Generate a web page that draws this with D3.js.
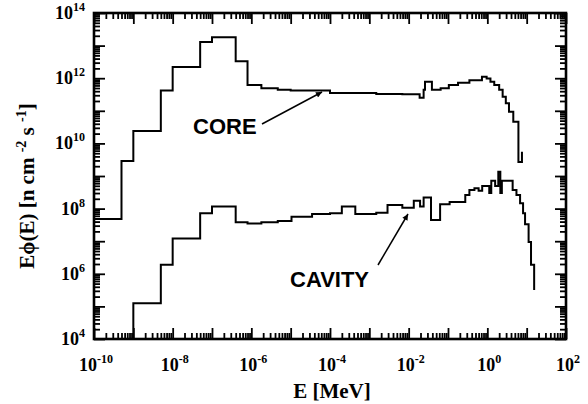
<!DOCTYPE html>
<html>
<head>
<meta charset="utf-8">
<script src="https://cdn.jsdelivr.net/npm/d3@7"></script>
<style>
  body { margin: 0; background: #fff; }
  svg { display: block; }
</style>
</head>
<body>
<div id="chart"></div>
<script>
'use strict';

// core spectrum: lower bin edges (MeV) + final point, flux per bin
const coreEnergy = [1e-10, 5e-10, 1e-9, 5e-9, 1e-8, 5e-8, 1e-7, 4e-7, 8e-7, 1.8e-6, 4.7e-6,
  1e-5, 1e-4, 1.5e-3, 6.9e-3, 1.9e-2, 2.4e-2, 2.6e-2, 3.9e-2, 6.5e-2, 0.105, 0.18, 0.35,
  0.73, 0.96, 1.2, 1.5, 2.0, 2.45, 2.95, 3.55, 4.57, 6.17, 7.59];
const coreFlux = [4.8e7, 2.9e9, 2.4e10, 4.2e11, 2.2e12, 1.3e13, 1.8e13, 3.3e12, 6.2e11, 4.9e11, 4.4e11,
  4.2e11, 3.5e11, 3.3e11, 3.2e11, 2.5e11, 4.4e11, 7.8e11, 4.4e11, 4.9e11, 6.2e11, 7.2e11, 8.7e11,
  1.1e12, 9.8e11, 7.8e11, 6.2e11, 4.4e11, 2.7e11, 1.7e11, 9.3e10, 4.6e10, 2.7e9, 5.5e9];

// cavity spectrum
const cavityEnergy = [1e-10, 1e-9, 5e-9, 1e-8, 5e-8, 1e-7, 4e-7, 8e-7, 1.8e-6, 4.7e-6, 1.05e-5,
  3.5e-5, 1e-4, 2e-4, 4.4e-4, 1.5e-3, 2.9e-3, 6.9e-3, 1.35e-2, 1.95e-2, 2.4e-2, 3.7e-2, 6.3e-2,
  0.11, 0.275, 0.35, 0.47, 0.6, 0.74, 1.12, 1.26, 1.58, 1.9, 2.14, 2.34, 4.4, 5.5, 6.8, 8.1,
  9.1, 11.2, 12.9, 15.5];
const cavityFlux = [1e4, 1.26e5, 1.9e6, 1.2e7, 7.2e7, 1.15e8, 3.8e7, 3.5e7, 3.8e7, 4.2e7, 5.6e7,
  6.8e7, 7.2e7, 1.15e8, 6.8e7, 7.4e7, 1.3e8, 1.07e8, 1.74e8, 1.15e8, 2.2e8, 4.5e7, 1.35e8,
  1.6e8, 2.6e8, 3.7e8, 4.2e8, 3.5e8, 4.9e8, 3.0e8, 7.1e8, 4.9e8, 1.35e9, 3.0e8, 7.2e8, 3.7e8,
  2.6e8, 1.45e8, 7.2e7, 3.3e7, 9.5e6, 1.9e6, 3.2e5];

const xDecades = [-10, -9, -8, -7, -6, -5, -4, -3, -2, -1, 0, 1, 2];
const yDecades = [4, 5, 6, 7, 8, 9, 10, 11, 12, 13, 14];
const xLabelExps = [-10, -8, -6, -4, -2, 0, 2];
const yLabelExps = [4, 6, 8, 10, 12, 14];

const width = 588, height = 404;
const margin = {top: 13, right: 22, bottom: 65, left: 94};

const svg = d3.select('#chart').append('svg')
  .attr('width', width)
  .attr('height', height);

const x = d3.scaleLog()
  .domain([1e-10, 1e2])
  .range([margin.left, width - margin.right]);
const y = d3.scaleLog()
  .domain([1e4, 1e14])
  .range([height - margin.bottom, margin.top]);

const x0 = x.range()[0], x1 = x.range()[1];
const y0 = y.range()[0], y1 = y.range()[1];

function majors(decs) {
  return decs.map((d) => Math.pow(10, d));
}
function minors(decs) {
  let out = [];
  decs.slice(0, -1).forEach((d) => {
    for (let m = 2; m <= 9; m++) out.push(m * Math.pow(10, d));
  });
  return out;
}

// inward ticks on all four sides
[{vals: majors(xDecades), size: 11}, {vals: minors(xDecades), size: 6}].forEach((t) => {
  svg.append('g')
    .attr('transform', `translate(0,${y0})`)
    .call(d3.axisBottom(x).tickValues(t.vals).tickSize(-t.size).tickFormat(''));
  svg.append('g')
    .attr('transform', `translate(0,${y1})`)
    .call(d3.axisTop(x).tickValues(t.vals).tickSize(-t.size).tickFormat(''));
});
[{vals: majors(yDecades), size: 11}, {vals: minors(yDecades), size: 6}].forEach((t) => {
  svg.append('g')
    .attr('transform', `translate(${x0},0)`)
    .call(d3.axisLeft(y).tickValues(t.vals).tickSize(-t.size).tickFormat(''));
  svg.append('g')
    .attr('transform', `translate(${x1},0)`)
    .call(d3.axisRight(y).tickValues(t.vals).tickSize(-t.size).tickFormat(''));
});
svg.selectAll('.domain').remove();
svg.selectAll('.tick line').attr('stroke', '#000').attr('stroke-width', 1.8);

// frame
svg.append('rect')
  .attr('x', x0).attr('y', y1)
  .attr('width', x1 - x0).attr('height', y0 - y1)
  .attr('fill', 'none').attr('stroke', '#000').attr('stroke-width', 2.6);

const serif = "'Liberation Serif', 'Times New Roman', serif";

function powerLabel(sel, exp) {
  sel.append('tspan').text('10');
  sel.append('tspan').attr('dy', -8).attr('font-size', 12).text(exp);
}

// x tick labels
xLabelExps.forEach((e) => {
  svg.append('text')
    .attr('x', x(Math.pow(10, e)) + 2)
    .attr('y', y0 + 32)
    .attr('text-anchor', 'middle')
    .attr('font-family', serif).attr('font-weight', 'bold').attr('font-size', 18)
    .call(powerLabel, e);
});

// y tick labels
yLabelExps.forEach((e) => {
  svg.append('text')
    .attr('x', x0 - 9)
    .attr('y', y(Math.pow(10, e)) + 6)
    .attr('text-anchor', 'end')
    .attr('font-family', serif).attr('font-weight', 'bold').attr('font-size', 18)
    .call(powerLabel, e);
});

// axis titles
svg.append('text')
  .attr('x', (x0 + x1) / 2 + 2)
  .attr('y', 398)
  .attr('text-anchor', 'middle')
  .attr('font-family', serif).attr('font-weight', 'bold').attr('font-size', 21)
  .text('E [MeV]');

const yTitle = svg.append('text')
  .attr('transform', 'translate(34,186) rotate(-90)')
  .attr('text-anchor', 'middle')
  .attr('font-family', serif).attr('font-weight', 'bold').attr('font-size', 21);
yTitle.append('tspan').text('E\u03d5(E) [n cm ');
yTitle.append('tspan').attr('dy', -8).attr('font-size', 14).text('-2');
yTitle.append('tspan').attr('dy', 8).text(' s ');
yTitle.append('tspan').attr('dy', -8).attr('font-size', 14).text('-1');
yTitle.append('tspan').attr('dy', 8).text(']');

// spectra as step lines
const line = d3.line()
  .x((d) => x(d[0]))
  .y((d) => y(d[1]))
  .curve(d3.curveStepAfter);

[[coreEnergy, coreFlux], [cavityEnergy, cavityFlux]].forEach(([es, fs]) => {
  svg.append('path')
    .datum(d3.zip(es, fs))
    .attr('d', line)
    .attr('fill', 'none')
    .attr('stroke', '#000')
    .attr('stroke-width', 2)
    .attr('stroke-linejoin', 'miter');
});

// annotations
svg.append('defs').append('marker')
  .attr('id', 'head')
  .attr('viewBox', '0 0 10 10')
  .attr('refX', 10).attr('refY', 5)
  .attr('markerWidth', 9).attr('markerHeight', 6)
  .attr('markerUnits', 'userSpaceOnUse')
  .attr('orient', 'auto')
  .append('path').attr('d', 'M0,0L10,5L0,10Z').attr('fill', '#000');

const sans = "'Liberation Sans', Arial, sans-serif";
const notes = [
  {text: 'CORE', tx: 193, ty: 134, from: [262, 124], to: [322, 92]},
  {text: 'CAVITY', tx: 290, ty: 287, from: [378, 265], to: [408, 214]}
];
notes.forEach((n) => {
  svg.append('text')
    .attr('x', n.tx).attr('y', n.ty)
    .attr('font-family', sans).attr('font-weight', 'bold').attr('font-size', 22)
    .text(n.text);
  svg.append('line')
    .attr('x1', n.from[0]).attr('y1', n.from[1])
    .attr('x2', n.to[0]).attr('y2', n.to[1])
    .attr('stroke', '#000').attr('stroke-width', 1.5)
    .attr('marker-end', 'url(#head)');
});
</script>
</body>
</html>
